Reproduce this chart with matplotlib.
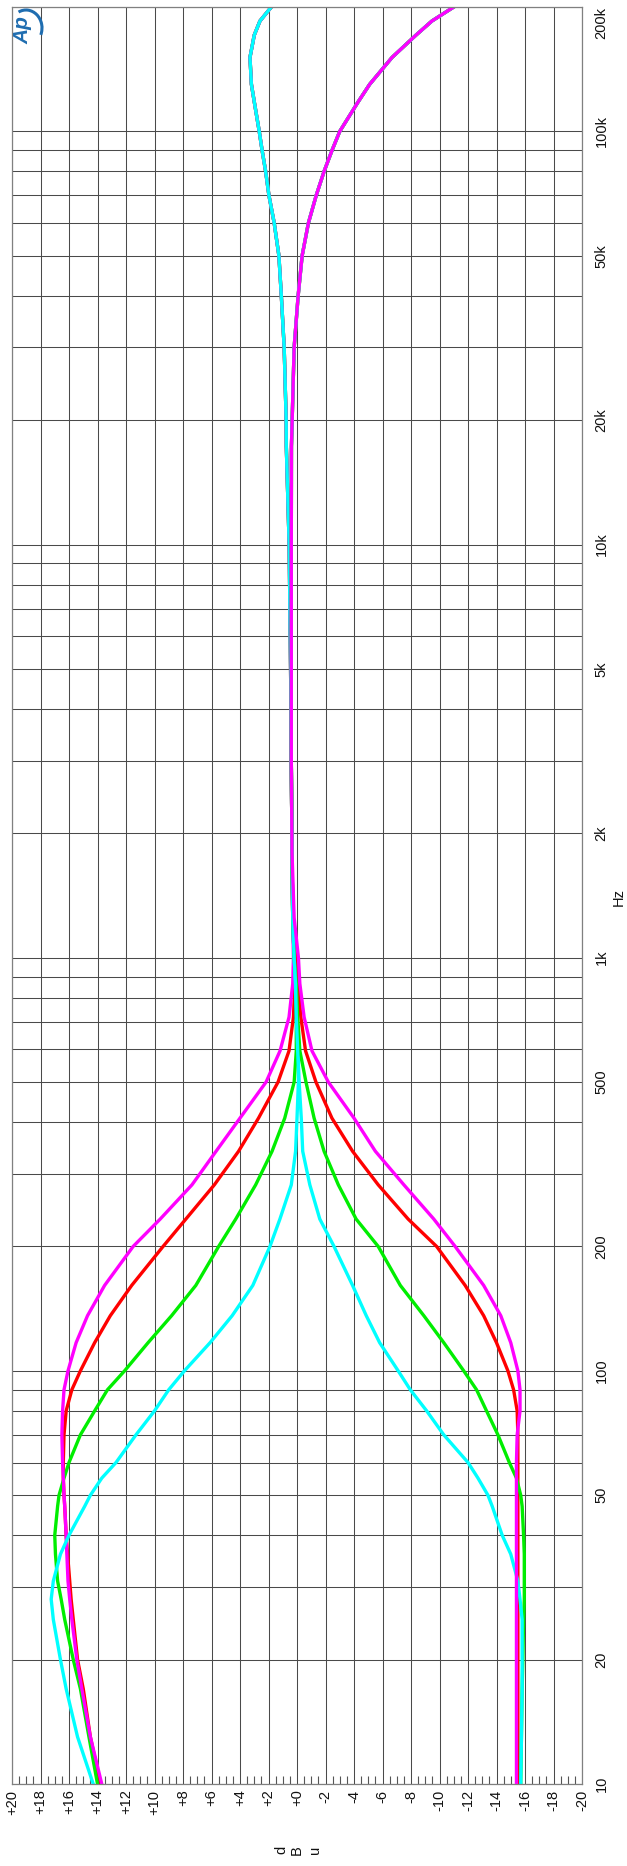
import numpy as np
import matplotlib
matplotlib.use('Agg')
import matplotlib.pyplot as plt
from matplotlib.ticker import FixedLocator, NullFormatter, LogLocator
from matplotlib.patches import Arc
from matplotlib.transforms import IdentityTransform

plt.rcParams['font.family'] = ['Liberation Sans', 'DejaVu Sans']

# low / mid frequency part (Hz) and response of each curve (dBu)
lf_freq = [10, 13, 17, 20, 25, 28, 31, 36, 40, 47, 50, 55, 60, 70, 80, 90, 100,
           117, 136, 161, 200, 233, 282, 340, 409, 500, 595, 718, 865, 1000, 1250, 1800]

cyan_boost = [14.3, 15.4, 16.2, 16.6, 17.1, 17.25, 17.1, 16.6, 16.0, 14.9, 14.5, 13.7, 12.7, 11.3, 10.0, 9.0, 7.9,
              6.1, 4.55, 3.1, 1.9, 1.2, 0.4, 0.1, 0.0, -0.1, -0.1, 0.0, 0.1, 0.2, 0.3, 0.35]
cyan_cut = [-15.7, -15.75, -15.8, -15.8, -15.8, -15.65, -15.5, -15.0, -14.4, -13.7, -13.4, -12.7, -12.0, -10.3, -9.1, -7.95, -7.1,
            -5.8, -4.86, -3.9, -2.6, -1.6, -0.9, -0.4, -0.3, -0.15, -0.05, 0.05, 0.1, 0.2, 0.3, 0.35]
green_boost = [14.0, 14.6, 15.2, 15.7, 16.3, 16.55, 16.8, 16.95, 17.0, 16.8, 16.7, 16.35, 16.0, 15.2, 14.2, 13.3, 12.1,
               10.45, 8.8, 7.1, 5.5, 4.3, 2.9, 1.75, 0.86, 0.2, 0.05, 0.05, 0.1, 0.2, 0.3, 0.35]
green_cut = [-15.7, -15.75, -15.8, -15.85, -15.9, -15.95, -15.95, -15.95, -15.9, -15.8, -15.7, -15.4, -14.9, -14.1, -13.3, -12.6, -11.7,
             -10.3, -8.9, -7.25, -5.7, -4.15, -2.9, -1.9, -1.2, -0.63, -0.2, -0.05, 0.05, 0.2, 0.3, 0.35]
red_boost = [13.8, 14.5, 15.0, 15.4, 15.7, 15.85, 15.95, 16.1, 16.2, 16.3, 16.35, 16.4, 16.4, 16.35, 16.2, 15.8, 15.2,
             14.2, 13.1, 11.6, 9.4, 7.8, 5.8, 4.1, 2.7, 1.33, 0.56, 0.25, 0.15, 0.2, 0.3, 0.35]
red_cut = [-15.5, -15.5, -15.5, -15.5, -15.5, -15.5, -15.5, -15.5, -15.5, -15.5, -15.5, -15.5, -15.5, -15.5, -15.45, -15.2, -14.8,
           -14.0, -13.1, -11.8, -9.8, -7.8, -5.7, -3.9, -2.45, -1.33, -0.6, -0.27, -0.07, 0.1, 0.3, 0.35]
magenta_boost = [13.7, 14.5, 15.1, 15.45, 15.8, 15.95, 16.07, 16.15, 16.2, 16.3, 16.35, 16.4, 16.45, 16.5, 16.45, 16.35, 16.07,
                 15.5, 14.7, 13.5, 11.5, 9.6, 7.37, 5.68, 4.0, 2.17, 1.19, 0.56, 0.3, 0.25, 0.3, 0.35]
magenta_cut = [-15.4, -15.4, -15.4, -15.4, -15.4, -15.4, -15.4, -15.4, -15.4, -15.4, -15.4, -15.4, -15.4, -15.45, -15.65, -15.65, -15.5,
               -15.0, -14.3, -13.1, -11.1, -9.6, -7.5, -5.5, -4.0, -2.2, -1.05, -0.5, -0.2, -0.1, 0.2, 0.35]

# high frequency part, same for every boost / every cut curve
hf_freq = [3000, 5000, 10000, 17300, 20000, 30000, 40000, 50000, 60000, 70000, 80000, 90000,
           100000, 118000, 130000, 151000, 171000, 185000, 200000]
hf_boost = [0.4, 0.45, 0.55, 0.75, 0.76, 0.9, 1.1, 1.27, 1.6, 1.97, 2.2, 2.45,
            2.65, 3.0, 3.2, 3.3, 3.0, 2.6, 1.8]
hf_cut = [0.4, 0.4, 0.4, 0.39, 0.34, 0.2, -0.08, -0.36, -0.8, -1.35, -1.9, -2.46,
          -3.0, -4.3, -5.1, -6.67, -8.35, -9.47, -11.0]

db_ticks = list(range(20, -21, -2))
db_labels = ['+%d' % v if v >= 0 else '%d' % v for v in db_ticks]
freq_ticks = [10, 20, 50, 100, 200, 500, 1000, 2000, 5000, 10000, 20000, 50000, 100000, 200000]
freq_labels = ['10', '20', '50', '100', '200', '500', '1k', '2k', '5k', '10k', '20k', '50k', '100k', '200k']

W, H = 627, 1866
fig = plt.figure(figsize=(W / 100, H / 100), dpi=100)
ax = fig.add_axes([12 / W, (H - 1784) / H, 570 / W, 1777 / H])

freq = lf_freq + hf_freq
boosts = [('#ff0000', red_boost), ('#00ee00', green_boost), ('#ff00ff', magenta_boost), ('#00ffff', cyan_boost)]
cuts = [('#ff0000', red_cut), ('#00ee00', green_cut), ('#00ffff', cyan_cut), ('#ff00ff', magenta_cut)]
for c, d in boosts:
    ax.plot(d + hf_boost, freq, color=c, lw=2.4, solid_joinstyle='round')
for c, d in cuts:
    ax.plot(d + hf_cut, freq, color=c, lw=2.4, solid_joinstyle='round')

ax.set_yscale('log')
ax.set_ylim(10, 200000)
ax.set_xlim(20, -20)

ax.set_xticks(db_ticks)
ax.set_xticklabels(db_labels, rotation=90, fontsize=10.5, color='#111111')
ax.xaxis.set_minor_locator(FixedLocator([v / 2 for v in range(-40, 41) if v % 4 != 0]))
ax.tick_params(axis='x', which='major', length=0, pad=4)
ax.tick_params(axis='x', which='minor', length=6, direction='in', color='#555555', width=0.8)

ax.yaxis.tick_right()
ax.set_yticks(freq_ticks)
ax.set_yticklabels(freq_labels, rotation=90, fontsize=10.5, color='#111111', va='center')
ax.get_yticklabels()[-1].set_va('top')
ax.yaxis.set_minor_locator(LogLocator(base=10, subs=range(2, 10), numticks=50))
ax.yaxis.set_minor_formatter(NullFormatter())
ax.tick_params(axis='y', which='both', length=0, pad=9)

ax.grid(axis='x', which='major', color='#4a4a4a', lw=0.75)
ax.grid(axis='y', which='both', color='#4a4a4a', lw=0.75)
ax.set_axisbelow(True)
for s in ax.spines.values():
    s.set_color('#808080')
    s.set_linewidth(0.9)

# axis titles
fig.text(619 / W, 1 - 897 / H, 'Hz', rotation=90, fontsize=10.5, ha='center', va='center', color='#111111')
for x, ch in zip([281, 297, 315], ['d', 'B', 'u']):
    fig.text(x / W, 1 - 1850 / H, ch, rotation=90, fontsize=10.5, ha='center', va='center', color='#111111')

# Ap logo
fig.text(23 / W, 1 - 30 / H, 'Ap', rotation=90, fontsize=15, fontstyle='italic', fontweight='bold',
         color='#1f6db0', ha='center', va='center')
fig.add_artist(Arc((26, H - 28), 32, 36, theta1=-25, theta2=115, color='#1f6db0', lw=2.2,
                   transform=IdentityTransform()))

fig.savefig('out.png', dpi=100)
